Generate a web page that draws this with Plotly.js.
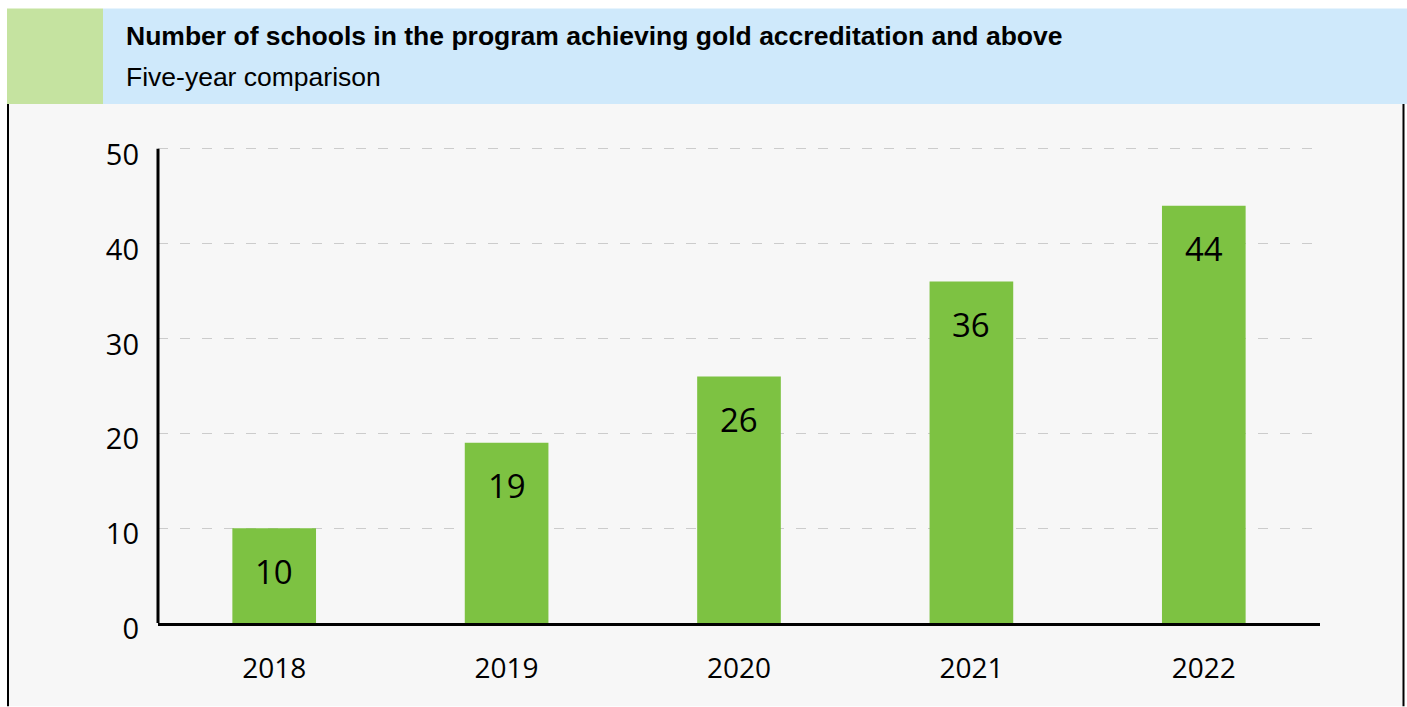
<!DOCTYPE html>
<html>
<head>
<meta charset="utf-8">
<script src="https://cdn.plot.ly/plotly-3.0.1.min.js"></script>
<style>
html,body{margin:0;padding:0;background:#fff;}
#chart{width:1407px;height:707px;}
</style>
</head>
<body>
<div id="chart"></div>
<script>
const years = ["2018", "2019", "2020", "2021", "2022"];
const schools = [10, 19, 26, 36, 44];
const yTicks = [0, 10, 20, 30, 40, 50];
const titleText = "Number of schools in the program achieving gold accreditation and above";
const subtitleText = "Five-year comparison";

const W = 1407, H = 707;
const L = 158, R = 1320, T = 145.65, B = 623.5;
const px = x => (x - L) / (R - L);
const py = y => (B - y) / (B - T);

const shapes = [
  {type:'rect', xref:'paper', yref:'paper', x0:px(9), x1:px(1403), y0:py(707), y1:py(103), fillcolor:'#f7f7f7', line:{width:0}, layer:'below'},
  {type:'line', xref:'paper', yref:'paper', x0:px(8), x1:px(8), y0:py(707), y1:py(103), line:{color:'#000', width:2}, layer:'below'},
  {type:'line', xref:'paper', yref:'paper', x0:px(1403.5), x1:px(1403.5), y0:py(707), y1:py(103), line:{color:'#000', width:2}, layer:'below'},
  {type:'rect', xref:'paper', yref:'paper', x0:px(7), x1:px(103), y0:py(103.5), y1:py(8), fillcolor:'#c5e3a0', line:{width:0}, layer:'below'},
  {type:'rect', xref:'paper', yref:'paper', x0:px(103), x1:px(1407), y0:py(103.5), y1:py(8), fillcolor:'#cfe9fb', line:{width:0}, layer:'below'},
  {type:'line', xref:'paper', yref:'paper', x0:px(158), x1:px(158), y0:py(623.5), y1:py(148.5), line:{color:'#000', width:3}, layer:'above'}
];

const annotations = [
  {xref:'paper', yref:'paper', x:px(124), y:py(35), xanchor:'left', yanchor:'middle', showarrow:false,
   text:'<b>' + titleText + '</b>', font:{family:'Liberation Sans, Arial, sans-serif', size:26.5, color:'#000'}},
  {xref:'paper', yref:'paper', x:px(124), y:py(77), xanchor:'left', yanchor:'middle', showarrow:false,
   text:subtitleText, font:{family:'Liberation Sans, Arial, sans-serif', size:26.5, color:'#000'}}
];
years.forEach((yr, i) => {
  annotations.push({x: i, y: schools[i], xref:'x', yref:'y', yanchor:'middle', yshift:-43, showarrow:false,
    text: String(schools[i]), font:{family:'Open Sans, Noto Sans, sans-serif', size:33, color:'#000'}});
});

const data = [{
  type:'bar', x: years, y: schools,
  marker:{color:'#7dc242'},
  hoverinfo:'x+y'
}];

const layout = {
  width: W, height: H,
  margin:{l:L, r:W-R, t:T, b:H-B, pad:0},
  paper_bgcolor:'#ffffff',
  plot_bgcolor:'rgba(0,0,0,0)',
  showlegend:false,
  bargap:0.64,
  shapes: shapes,
  annotations: annotations,
  xaxis:{
    type:'category', range:[-0.5, 4.5], showline:true, linecolor:'#000', linewidth:3,
    showgrid:false, zeroline:false, ticks:'',
    tickfont:{family:'Open Sans, Noto Sans, sans-serif', size:28, color:'#000'},
    ticklabelstandoff:18
  },
  yaxis:{
    range:[0,50.3], tickvals:yTicks, ticktext:yTicks.map(String),
    showline:false,
    showgrid:true, gridcolor:'#cccccc', gridwidth:1, griddash:'10px,12px',
    zeroline:false, ticks:'',
    tickfont:{family:'Open Sans, Noto Sans, sans-serif', size:29, color:'#000'},
    ticklabelstandoff:18, ticklabelshift:6
  }
};

Plotly.newPlot('chart', data, layout, {displayModeBar:false});
</script>
</body>
</html>
